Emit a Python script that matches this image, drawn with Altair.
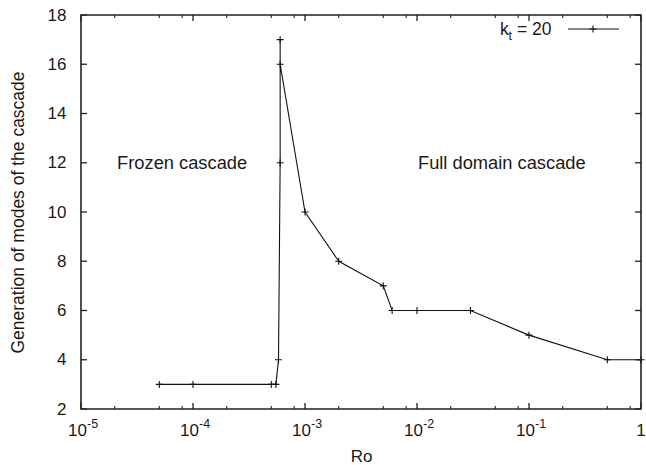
import altair as alt
import pandas as pd

# Data
ro = [5e-5, 1e-4, 5e-4, 5.5e-4, 5.8e-4, 6e-4, 6e-4, 6e-4, 1e-3, 2e-3, 5e-3, 6e-3, 1e-2, 3e-2, 1e-1, 5e-1, 1.0]
modes = [3, 3, 3, 3, 4, 12, 17, 16, 10, 8, 7, 6, 6, 6, 5, 4, 4]
order = list(range(len(ro)))

x_major = [1e-5, 1e-4, 1e-3, 1e-2, 1e-1, 1.0]
x_exp = ["-5", "-4", "-3", "-2", "-1"]
x_minor_mult = [2, 5, 8]
y_major = [2, 4, 6, 8, 10, 12, 14, 16, 18]

annot_x = [2.1e-5, 1.02e-2]
annot_y = [11.75, 11.75]
annot_text = ["Frozen cascade", "Full domain cascade"]

FONT = "Liberation Sans"
W, H = 560, 394
TXT = "#1a1a1a"

df = pd.DataFrame({"Ro": ro, "modes": modes, "order": order})
xmaj = pd.DataFrame({"v": x_major})
xlab = pd.DataFrame({"v": x_major[:-1], "e": x_exp})
xone = pd.DataFrame({"v": [x_major[-1]], "t": ["1"]})
xmin = pd.DataFrame({"v": [d * m for d in x_major[:-1] for m in x_minor_mult]})
ymaj = pd.DataFrame({"v": y_major})
ann = pd.DataFrame({"x": annot_x, "y": annot_y, "t": annot_text})

xs = alt.Scale(type="log", domain=[1e-5, 1], nice=False)
ys = alt.Scale(domain=[2, 18], nice=False, zero=False)

xenc = alt.X("Ro:Q", scale=xs,
             axis=alt.Axis(title="Ro", labels=False, ticks=False, domain=False, grid=False,
                           titleFont=FONT, titleFontSize=17, titleFontWeight="normal",
                           titleColor=TXT, titlePadding=39))
yenc = alt.Y("modes:Q", scale=ys,
             axis=alt.Axis(title="Generation of modes of the cascade", values=y_major,
                           ticks=False, domain=False, grid=False,
                           labelFont=FONT, labelFontSize=17, labelColor=TXT, labelPadding=15,
                           titleFont=FONT, titleFontSize=17.5, titleFontWeight="normal",
                           titleColor=TXT, titlePadding=20))

plus = "M-1,0L1,0M0,-1L0,1"

line = alt.Chart(df).mark_line(color="#111", strokeWidth=1.1).encode(
    x=xenc, y=yenc, order="order:Q")
pts = alt.Chart(df).mark_point(shape=plus, size=49, color="#111", strokeWidth=1.1,
                               filled=False, opacity=1).encode(
    x=alt.X("Ro:Q", scale=xs), y=alt.Y("modes:Q", scale=ys))

tick_col = "#222"
# x ticks bottom/top (inward)
xt_b = alt.Chart(xmaj).mark_rule(color=tick_col, strokeWidth=1.3).encode(
    x=alt.X("v:Q", scale=xs), y=alt.value(H), y2=alt.value(H - 6))
xt_t = alt.Chart(xmaj).mark_rule(color=tick_col, strokeWidth=1.3).encode(
    x=alt.X("v:Q", scale=xs), y=alt.value(0), y2=alt.value(6))
xm_b = alt.Chart(xmin).mark_rule(color=tick_col, strokeWidth=1.1).encode(
    x=alt.X("v:Q", scale=xs), y=alt.value(H), y2=alt.value(H - 3))
xm_t = alt.Chart(xmin).mark_rule(color=tick_col, strokeWidth=1.1).encode(
    x=alt.X("v:Q", scale=xs), y=alt.value(0), y2=alt.value(3))
# y ticks left/right (inward)
yt_l = alt.Chart(ymaj).mark_rule(color=tick_col, strokeWidth=1.3).encode(
    y=alt.Y("v:Q", scale=ys), x=alt.value(0), x2=alt.value(6))
yt_r = alt.Chart(ymaj).mark_rule(color=tick_col, strokeWidth=1.3).encode(
    y=alt.Y("v:Q", scale=ys), x=alt.value(W), x2=alt.value(W - 6))

# x tick labels: "10" with superscript exponent
lab10 = alt.Chart(xlab).mark_text(font=FONT, fontSize=17, color=TXT, align="right",
                                  baseline="alphabetic", dx=6).encode(
    x=alt.X("v:Q", scale=xs), y=alt.value(H + 27), text=alt.value("10"))
labexp = alt.Chart(xlab).mark_text(font=FONT, fontSize=12.5, color=TXT, align="left",
                                   baseline="alphabetic", dx=6).encode(
    x=alt.X("v:Q", scale=xs), y=alt.value(H + 19), text="e:N")
labone = alt.Chart(xone).mark_text(font=FONT, fontSize=17, color=TXT, align="center",
                                   baseline="alphabetic").encode(
    x=alt.X("v:Q", scale=xs), y=alt.value(H + 27), text="t:N")

# annotations
annot = alt.Chart(ann).mark_text(font=FONT, fontSize=18.3, color=TXT, align="left",
                                 baseline="alphabetic").encode(
    x=alt.X("x:Q", scale=xs), y=alt.Y("y:Q", scale=ys), text="t:N")

# legend
one = pd.DataFrame({"a": [0]})
leg_k = alt.Chart(one).mark_text(
    font=FONT, fontSize=17.5, color=TXT, align="left", baseline="alphabetic").encode(
    x=alt.value(419), y=alt.value(20), text=alt.value("k"))
leg_t = alt.Chart(one).mark_text(
    font=FONT, fontSize=12.5, color=TXT, align="left", baseline="alphabetic").encode(
    x=alt.value(427.5), y=alt.value(25), text=alt.value("t"))
leg_eq = alt.Chart(one).mark_text(
    font=FONT, fontSize=17.5, color=TXT, align="left", baseline="alphabetic").encode(
    x=alt.value(436), y=alt.value(20), text=alt.value("= 20"))
leg_line = alt.Chart(one).mark_rule(color="#111", strokeWidth=1.1).encode(
    x=alt.value(487), x2=alt.value(538), y=alt.value(14))
leg_pt = alt.Chart(one).mark_point(
    shape=plus, size=49, color="#111", strokeWidth=1.1, filled=False, opacity=1).encode(
    x=alt.value(512), y=alt.value(14))

chart = alt.layer(
    line, pts, xt_b, xt_t, xm_b, xm_t, yt_l, yt_r, lab10, labexp, labone, annot,
    leg_k, leg_t, leg_eq, leg_line, leg_pt
).properties(
    width=W, height=H,
    autosize=alt.AutoSizeParams(type="none"),
    padding={"left": 81, "top": 15, "right": 5, "bottom": 56},
    background="white",
).configure_view(stroke="#222", strokeWidth=1.6)

chart.save("out.html", embed_options={"renderer": "svg", "actions": False})
